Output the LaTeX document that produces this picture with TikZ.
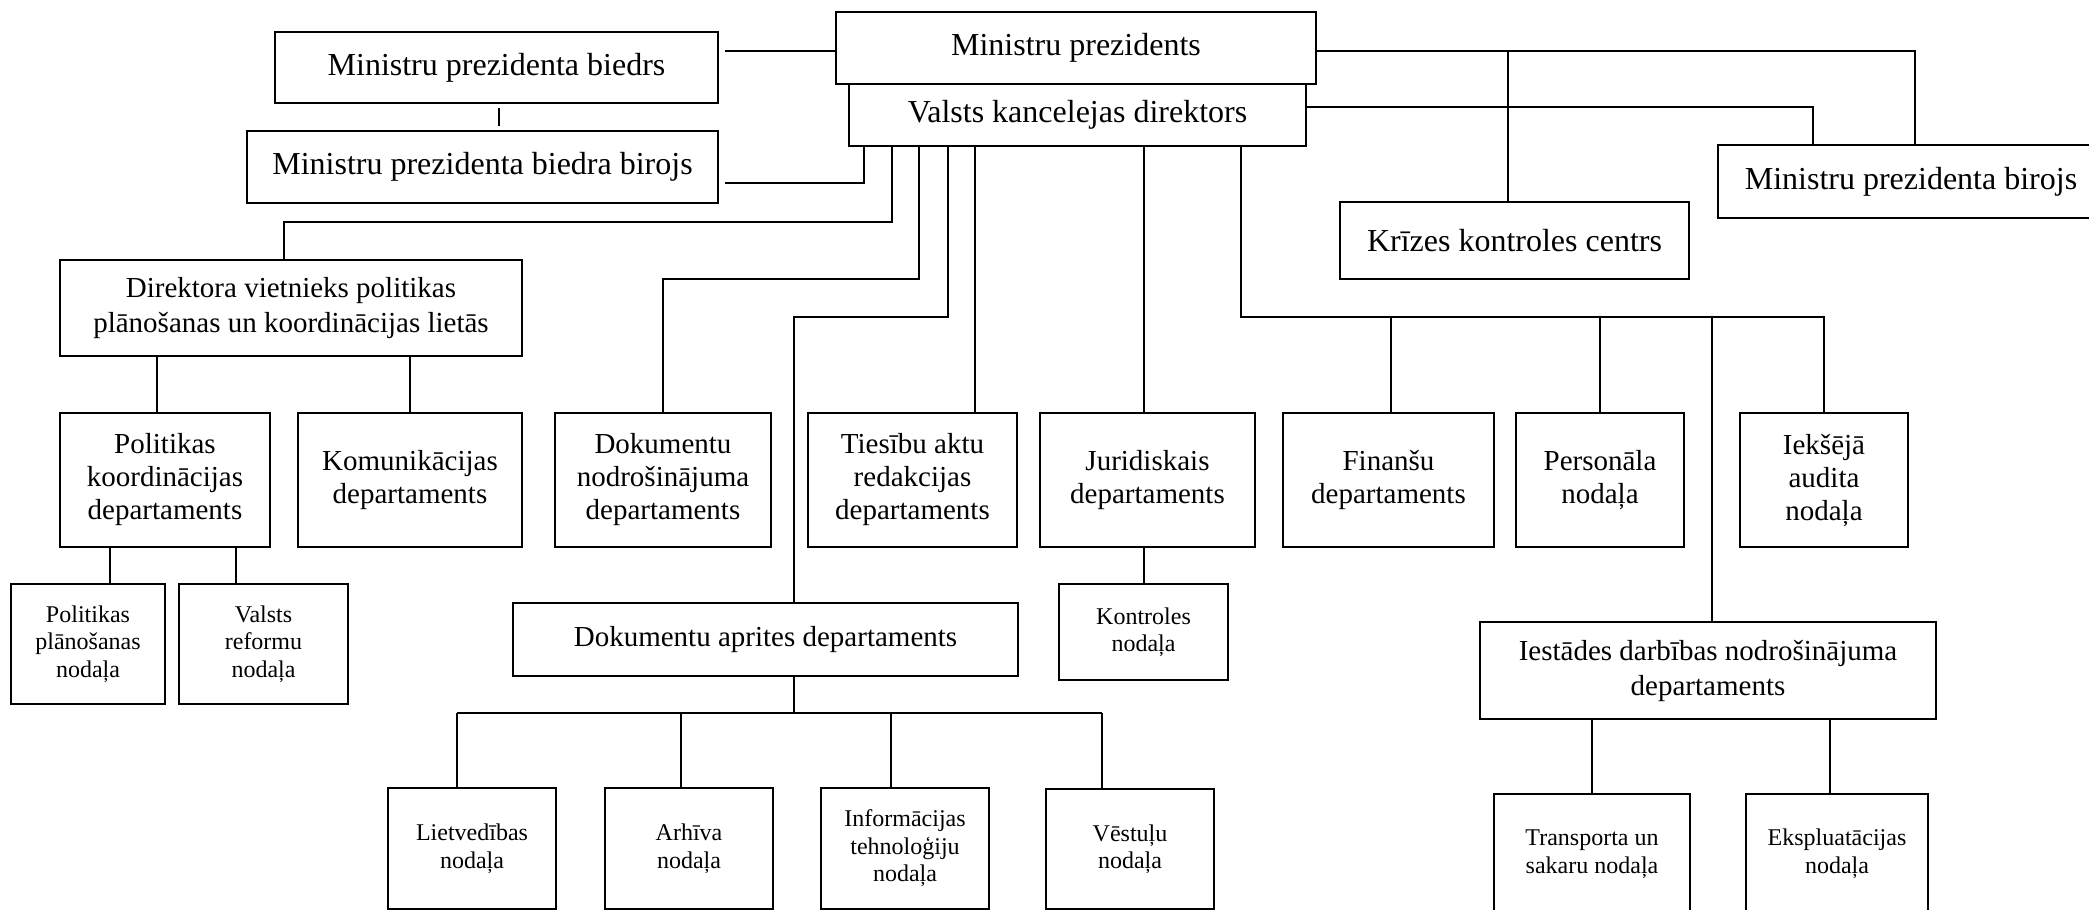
\documentclass[tikz,border=0pt]{standalone}
\usepackage{fontspec}
\setmainfont{Liberation Serif}
\newcommand\orgbox[7]{\node[#2, minimum width={#5-#3}, minimum height={#6-#4}] (#1) at ({(#3+#5)/2},{(#4+#6)/2}) {#7};}
\begin{document}
\begin{tikzpicture}[x=1pt,y=-1pt,
  box/.style={draw, line width=2pt, rectangle, inner sep=0pt, align=center},
  big/.style={box, font=\fontsize{32}{36}\selectfont},
  mid/.style={box, font=\fontsize{29}{33}\selectfont},
  wide/.style={box, font=\fontsize{29}{35}\selectfont},
  sml/.style={box, font=\fontsize{24}{27.5}\selectfont},
  conn/.style={line width=1.6pt},
]
\useasboundingbox (0,0) rectangle (2089,910);
\clip (0,0) rectangle (2089,910);
\foreach \v in {110,157,236,284,457,499,681,794,864,891,892,919,948,975,1102,1144,1241,1391,1508,1592,1712,1813,1830,1915}
  {\coordinate (k\v) at (\v,0);}
\foreach \v in {51,107,183,222,279,317,713}
  {\coordinate (h\v) at (0,\v);}

\orgbox{mpb}{big}{275}{32}{718}{103}{Ministru prezidenta biedrs}
\orgbox{mpbb}{big}{247}{131}{718}{203}{Ministru prezidenta biedra birojs}
\orgbox{mp}{big}{836}{12}{1316}{84}{Ministru prezidents}
\orgbox{vk}{big}{849}{84}{1306}{146}{Valsts kancelejas direktors}
\orgbox{mpbir}{big}{1718}{145}{2104}{218}{Ministru prezidenta birojs}
\orgbox{krize}{big}{1340}{202}{1689}{279}{Krīzes kontroles centrs}
\orgbox{dv}{wide}{60}{260}{522}{356}{Direktora vietnieks politikas\\plānošanas un koordinācijas lietās}
\orgbox{pkd}{mid}{60}{413}{270}{547}{Politikas\\koordinācijas\\departaments}
\orgbox{kom}{mid}{298}{413}{522}{547}{Komunikācijas\\departaments}
\orgbox{dnd}{mid}{555}{413}{771}{547}{Dokumentu\\nodrošinājuma\\departaments}
\orgbox{tad}{mid}{808}{413}{1017}{547}{Tiesību aktu\\redakcijas\\departaments}
\orgbox{jur}{mid}{1040}{413}{1255}{547}{Juridiskais\\departaments}
\orgbox{fin}{mid}{1283}{413}{1494}{547}{Finanšu\\departaments}
\orgbox{pers}{mid}{1516}{413}{1684}{547}{Personāla\\nodaļa}
\orgbox{iek}{mid}{1740}{413}{1908}{547}{Iekšējā\\audita\\nodaļa}
\orgbox{ppn}{sml}{11}{584}{165}{704}{Politikas\\plānošanas\\nodaļa}
\orgbox{vrn}{sml}{179}{584}{348}{704}{Valsts\\reformu\\nodaļa}
\orgbox{dad}{mid}{513}{603}{1018}{676}{Dokumentu aprites departaments}
\orgbox{kon}{sml}{1059}{584}{1228}{680}{Kontroles\\nodaļa}
\orgbox{iest}{wide}{1480}{622}{1936}{719}{Iestādes darbības nodrošinājuma\\departaments}
\orgbox{liet}{sml}{388}{788}{556}{909}{Lietvedības\\nodaļa}
\orgbox{arh}{sml}{605}{788}{773}{909}{Arhīva\\nodaļa}
\orgbox{inf}{sml}{821}{788}{989}{909}{Informācijas\\tehnoloģiju\\nodaļa}
\orgbox{vest}{sml}{1046}{789}{1214}{909}{Vēstuļu\\nodaļa}
\orgbox{tr}{sml}{1494}{794}{1690}{940}{\raisebox{13pt}[\height][\depth]{\begin{tabular}{@{}c@{}}Transporta un\\sakaru nodaļa\end{tabular}}}
\orgbox{eks}{sml}{1746}{794}{1928}{940}{\raisebox{13pt}[\height][\depth]{\begin{tabular}{@{}c@{}}Ekspluatācijas\\nodaļa\end{tabular}}}

\draw[conn] ([xshift=6pt]mpb.east |- h51) -- (mp.west |- h51);
\draw[conn] ([yshift=-4pt]mpb.south -| k499) -- ([yshift=4pt]mpbb.north -| k499);
\draw[conn] ([xshift=6pt]mpbb.east |- h183) -| (vk.south -| k864);
\draw[conn] (vk.south -| k892) |- (h222 -| k284) -- (dv.north -| k284);
\draw[conn] (vk.south -| k919) |- (h279 -| dnd.north) -- (dnd.north);
\draw[conn] (vk.south -| k948) |- (h317 -| k794) -- (dad.north -| k794);
\draw[conn] (vk.south -| k975) -- (tad.north -| k975);
\draw[conn] (vk.south -| k1144) -- (jur.north -| k1144);
\draw[conn] (vk.south -| k1241) |- (h317 -| iek.north) -- (iek.north);
\draw[conn] (h317 -| k1391) -- (fin.north -| k1391);
\draw[conn] (h317 -| pers.north) -- (pers.north);
\draw[conn] (h317 -| k1712) -- (iest.north -| k1712);
\draw[conn] (vk.east |- h107) -| (mpbir.north -| k1813);
\draw[conn] (mp.east |- h51) -| (mpbir.north -| k1915);
\draw[conn] (h51 -| k1508) -- (krize.north -| k1508);
\draw[conn] (dv.south -| k157) -- (pkd.north -| k157);
\draw[conn] (dv.south -| kom.north) -- (kom.north);
\draw[conn] (pkd.south -| k110) -- (ppn.north -| k110);
\draw[conn] (pkd.south -| k236) -- (vrn.north -| k236);
\draw[conn] (jur.south -| k1144) -- (kon.north -| k1144);
\draw[conn] (dad.south -| k794) -- (h713 -| k794);
\draw[conn] (h713 -| k457) -- (h713 -| k1102);
\draw[conn] (h713 -| k457) -- (liet.north -| k457);
\draw[conn] (h713 -| k681) -- (arh.north -| k681);
\draw[conn] (h713 -| k891) -- (inf.north -| k891);
\draw[conn] (h713 -| k1102) -- (vest.north -| k1102);
\draw[conn] (iest.south -| k1592) -- (tr.north -| k1592);
\draw[conn] (iest.south -| k1830) -- (eks.north -| k1830);
\end{tikzpicture}
\end{document}
